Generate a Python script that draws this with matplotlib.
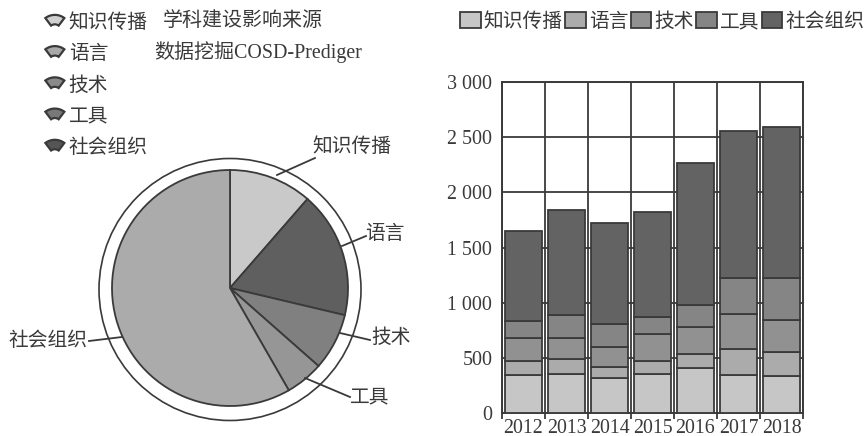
import matplotlib
matplotlib.use("Agg")
import matplotlib.pyplot as plt
from matplotlib.legend_handler import HandlerPatch
from matplotlib.patches import Circle, Patch, Wedge
import numpy as np

plt.rcParams['font.family'] = ['Liberation Serif', 'Noto Sans CJK SC', 'DejaVu Sans']

W, H = 865, 436
INK = "#3a3a3a"
FONT = 14.2

categories = ["知识传播", "语言", "技术", "工具", "社会组织"]
years = ["2012", "2013", "2014", "2015", "2016", "2017", "2018"]

# bars
knowledge = [345, 355, 320, 350, 410, 345, 335]
language = [127, 135, 100, 125, 125, 235, 215]
technology = [210, 190, 180, 240, 240, 315, 295]
tools = [148, 205, 210, 155, 205, 330, 375]
social = [820, 955, 915, 950, 1290, 1335, 1370]
bar_series = [knowledge, language, technology, tools, social]
y_ticks = [0, 500, 1000, 1500, 2000, 2500, 3000]
y_labels = ["0", "500", "1 000", "1 500", "2 000", "2 500", "3 000"]

# pie, in percent
pie_share = [11.4, 17.3, 7.8, 5.2, 58.3]
pie_colors = ["#c9c9c9", "#5f5f5f", "#808080", "#969696", "#ababab"]
bar_colors = ["#c6c6c6", "#ababab", "#919191", "#858585", "#636363"]
fan_colors = ["#d0d0d0", "#a8a8a8", "#8a8a8a", "#787878", "#555555"]

# leader lines: start on the pie, text centre (pixels of the image)
leader_start = [(277, 175), (342, 246), (340, 333), (305, 378), (122, 337)]
leader_end = [(315, 158), (366, 236), (370, 340), (350, 397), (89, 341)]
label_pos = [(352, 147), (385, 234), (391, 338), (370, 398), (48, 341)]


def fx(px):
    return px / W


def fy(py):
    return 1 - py / H


class HandlerFan(HandlerPatch):
    def create_artists(self, legend, orig_handle, xdescent, ydescent, width, height, fontsize, trans):
        r = width * 0.8
        fan = Wedge((width / 2, height * 0.95 - r), r, 53, 127, width=r * 0.6,
                    facecolor=orig_handle.get_facecolor(), edgecolor=INK, linewidth=1.6,
                    transform=trans)
        return [fan]


fig = plt.figure(figsize=(W / 100, H / 100), dpi=100)

# pie on the left
ax_pie = fig.add_axes([fx(230 - 135), fy(288 + 135), 270 / W, 270 / H])
wedges, _ = ax_pie.pie(pie_share, colors=pie_colors, startangle=90, counterclock=False,
                       radius=1.0, wedgeprops={"edgecolor": INK, "linewidth": 1.3})
ax_pie.set_xlim(-135 / 118, 135 / 118)
ax_pie.set_ylim(-135 / 118, 135 / 118)
ax_pie.add_patch(Circle((0, -1.5 / 118), 131 / 118, fill=False, edgecolor=INK, linewidth=1.2))

for name, start, end, pos in zip(categories, leader_start, leader_end, label_pos):
    fig.add_artist(plt.Line2D([fx(start[0]), fx(end[0])], [fy(start[1]), fy(end[1])],
                              color=INK, linewidth=1.3))
    fig.text(fx(pos[0]), fy(pos[1]), name, fontsize=FONT, color=INK, ha="center", va="center")

fan_handles = [Patch(facecolor=c) for c in fan_colors]
fig.legend(fan_handles, categories, handler_map={Patch: HandlerFan()},
           loc="upper left", bbox_to_anchor=(fx(45), fy(14)), frameon=False, fontsize=FONT,
           labelcolor=INK, borderpad=0, borderaxespad=0, handlelength=1.0, handleheight=0.7,
           handletextpad=0.2, labelspacing=0.62)
fig.text(fx(163), fy(21), "学科建设影响来源", fontsize=14.4, color=INK, va="center")
fig.text(fx(154), fy(52), "数据挖掘COSD-Prediger", fontsize=14.4, color=INK, va="center")

# stacked bars on the right
ax = fig.add_axes([fx(502), fy(413), 301 / W, 331 / H])
x = np.arange(len(years))
bottom = np.zeros(len(years))
for values, color, name in zip(bar_series, bar_colors, categories):
    ax.bar(x, values, 0.85, bottom=bottom, color=color, edgecolor=INK, linewidth=1.3,
           label=name, zorder=3)
    bottom += np.array(values)

ax.set_xlim(-0.5, len(years) - 0.5)
ax.set_ylim(0, 3000)
ax.set_yticks(y_ticks, y_labels)
ax.set_xticks(x, years)
ax.set_xticks(np.arange(-0.5, len(years)), minor=True)
ax.tick_params(axis="x", which="major", length=0, pad=4, labelsize=14.3, labelcolor=INK)
ax.tick_params(axis="x", which="minor", length=4, width=1.3, color=INK)
ax.tick_params(axis="y", length=0, pad=7, labelsize=14.4, labelcolor=INK)
ax.grid(True, which="minor", axis="x", color=INK, linewidth=1.3, zorder=1)
ax.grid(True, which="major", axis="y", color=INK, linewidth=1.3, zorder=1)
for spine in ax.spines.values():
    spine.set_color(INK)
    spine.set_linewidth(1.4)

handles, labels = ax.get_legend_handles_labels()
fig.legend(handles, labels, ncol=5, loc="upper left", bbox_to_anchor=(fx(460), fy(12)),
           frameon=False, fontsize=FONT, labelcolor=INK, borderpad=0, borderaxespad=0,
           handlelength=1.05, handleheight=0.9, handletextpad=0.15, columnspacing=0.12)

fig.savefig("out.png", dpi=100)
